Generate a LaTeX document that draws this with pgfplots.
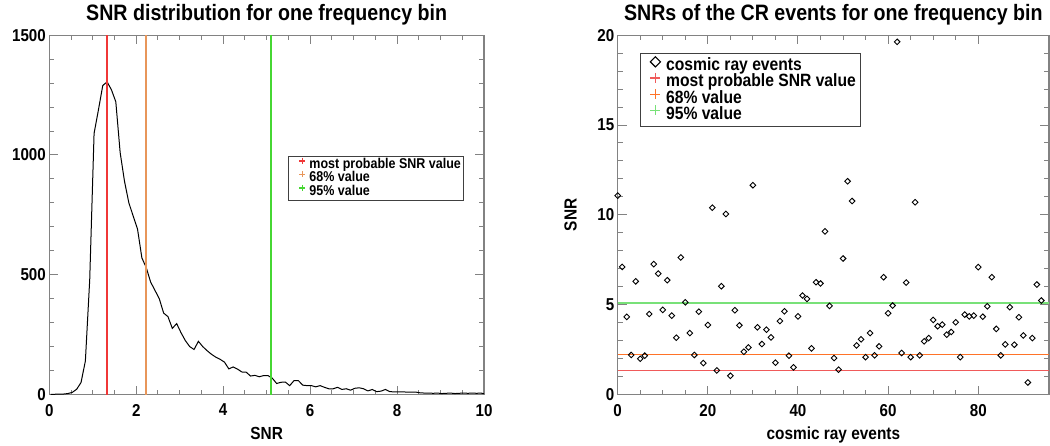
\documentclass[border=0pt]{standalone}
\usepackage{fontspec}
\setmainfont{Liberation Sans}[FakeStretch=0.88]
\usepackage{pgfplots}
\pgfplotsset{compat=1.18}
\definecolor{cRedL}{RGB}{240,55,55}
\definecolor{cOrangeL}{RGB}{232,150,90}
\definecolor{cGreenL}{RGB}{70,215,50}
\definecolor{cRedR}{RGB}{240,90,90}
\definecolor{cOrangeR}{RGB}{255,115,40}
\definecolor{cGreenR}{RGB}{120,225,120}
\definecolor{cAxis}{RGB}{130,130,130}
\pgfplotsset{idl/.style={
  scale only axis,
  axis line style={cAxis, line width=1.2pt},
  every tick/.style={cAxis, line width=1pt},
  major tick length=9pt, minor tick length=5pt,
  tick align=inside,
  /pgf/number format/assume math mode=true,
  /pgf/number format/1000 sep={},
  tick label style={font=\fontsize{17.2}{17.2}\selectfont\bfseries},
  xticklabel style={yshift=-6pt},
  label style={font=\fontsize{17.5}{17.5}\selectfont\bfseries},
  xlabel style={at={(0.5,0)}, anchor=base, yshift=-44.5pt},
  title style={font=\fontsize{22.3}{22.3}\selectfont\bfseries, at={(0.5,1)}, anchor=base, yshift=9pt},
  legend cell align=left,
}}
\begin{document}
\begin{tikzpicture}
\useasboundingbox (0,0) rectangle (1050pt,445pt);
% ---------------- left panel
\begin{axis}[idl,
  at={(49.3pt,50.5pt)}, anchor=south west,
  width=434.7pt, height=359.3pt,
  xmin=0, xmax=10, ymin=0, ymax=1500,
  xtick={0,2,4,6,8,10}, minor x tick num=3,
  ytick={0,500,1000,1500}, minor y tick num=4,
  title={SNR distribution for one frequency bin},
  xlabel={SNR},
  legend style={at={(0.55,0.665)}, anchor=north west, draw=black!75, line width=0.8pt,
    font=\fontsize{14.2}{14.2}\selectfont\bfseries,
    nodes={inner sep=0pt, text height=10pt, text depth=3pt},
    row sep=0pt, inner xsep=3pt, inner ysep=2pt, column sep=1.7pt},
  legend image code/.code={\path[draw=none,fill=none] (0pt,0pt) -- (16pt,0pt); \draw[#1] plot coordinates {(10.4pt,4pt)};},
]
\addplot[black, line width=1pt, forget plot] coordinates {
(0.03,0) (0.13,1) (0.23,2) (0.33,2) (0.43,4) (0.53,9) (0.63,22) (0.73,50) (0.83,140) (0.93,480)
(1.03,1090) (1.13,1188) (1.23,1290) (1.33,1305) (1.43,1272) (1.53,1222) (1.63,1010) (1.73,890)
(1.83,800) (1.93,745) (2.03,690) (2.13,570) (2.23,530) (2.33,470) (2.43,435) (2.53,400)
(2.63,340) (2.73,325) (2.83,276) (2.93,296) (3.03,258) (3.13,225) (3.23,200) (3.33,188)
(3.43,222) (3.53,200) (3.63,183) (3.73,168) (3.83,156) (3.93,147) (4.03,135) (4.13,107)
(4.23,115) (4.33,106) (4.43,94) (4.53,93) (4.63,77) (4.73,80) (4.83,74) (4.93,79) (5.03,79)
(5.13,68) (5.23,46) (5.33,51) (5.43,52) (5.53,37) (5.63,58) (5.73,58) (5.83,39) (5.93,37)
(6.03,37) (6.13,32) (6.23,37) (6.33,30) (6.43,24) (6.53,24) (6.63,30) (6.73,21) (6.83,24)
(6.93,18) (7.03,26) (7.13,28) (7.23,24) (7.33,15) (7.43,21) (7.53,12) (7.63,14) (7.73,21)
(7.83,12) (7.93,11) (8.03,11) (8.13,11) (8.23,10) (8.33,10) (8.43,10) (8.53,7) (8.63,6)
(8.73,6) (8.83,5) (8.93,6) (9.03,4) (9.13,5) (9.23,6) (9.33,4) (9.43,5) (9.53,6) (9.63,5)
(9.73,6) (9.83,5) (9.93,6) (10,3)
};
\addplot[color=cRedL, line width=1.4pt, forget plot] coordinates {(1.33,0) (1.33,1500)};
\addplot[color=cOrangeL, line width=1.6pt, forget plot] coordinates {(2.22,0) (2.22,1500)};
\addplot[color=cGreenL, line width=2pt, forget plot] coordinates {(5.11,0) (5.11,1500)};
\addlegendimage{only marks, mark=+, mark size=3pt, color=cRedL, line width=1.2pt}
\addlegendentry{most probable SNR value}
\addlegendimage{only marks, mark=+, mark size=3pt, color=cOrangeL, line width=1.2pt}
\addlegendentry{68\% value}
\addlegendimage{only marks, mark=+, mark size=3pt, color=cGreenL, line width=1.2pt}
\addlegendentry{95\% value}
\end{axis}
% ---------------- right panel
\begin{axis}[idl,
  at={(617.7pt,50.5pt)}, anchor=south west,
  width=431.3pt, height=359.3pt,
  xmin=0, xmax=95.7, ymin=0, ymax=20,
  xtick={0,20,40,60,80}, minor x tick num=3,
  ytick={0,5,10,15,20}, minor y tick num=4,
  title={SNRs of the CR events for one frequency bin},
  xlabel={cosmic ray events},
  ylabel={SNR},
  ylabel style={at={(axis description cs:-0.109,0.5)}, anchor=center},
  legend style={at={(0.0517,0.9496)}, anchor=north west, draw=black!75, line width=0.8pt,
    font=\fontsize{17.8}{17.8}\selectfont\bfseries,
    nodes={inner sep=0pt, text height=11.5pt, text depth=3.5pt},
    row sep=-1.3pt, inner xsep=5pt, inner ysep=3pt, column sep=2pt},
  legend image code/.code={\path[draw=none,fill=none] (0pt,0pt) -- (18.7pt,0pt); \draw[#1] plot coordinates {(10pt,5pt)};},
]
\addplot[color=cRedR, line width=1.3pt, forget plot] coordinates {(0,1.32) (95.7,1.32)};
\addplot[color=cOrangeR, line width=1.3pt, forget plot] coordinates {(0,2.21) (95.7,2.21)};
\addplot[color=cGreenR, line width=1.6pt, forget plot] coordinates {(0,5.1) (95.7,5.1)};
\addplot[only marks, mark=square, mark size=2pt, mark options={rotate=45, line width=0.9pt}, black, forget plot] coordinates {
(0,11.07) (1,7.10) (2,4.32) (3,2.20) (4,6.30) (5,1.99) (6,2.16) (7,4.48) (8,7.26) (9,6.73)
(10,4.71) (11,6.36) (12,4.39) (13,3.16) (14,7.63) (15,5.13) (16,3.42) (17,2.20) (18,4.61) (19,1.75)
(20,3.87) (21,10.40) (22,1.34) (23,6.03) (24,10.05) (25,1.04) (26,4.69) (27,3.85) (28,2.38) (29,2.62)
(30,11.65) (31,3.74) (32,2.81) (33,3.61) (34,3.18) (35,1.77) (36,4.09) (37,4.63) (38,2.16) (39,1.51)
(40,4.35) (41,5.51) (42,5.32) (43,2.57) (44,6.25) (45,6.18) (46,9.08) (47,4.93) (48,2.03) (49,1.38)
(50,7.57) (51,11.87) (52,10.77) (53,2.73) (54,3.07) (55,2.08) (56,3.42) (57,2.18) (58,2.68) (59,6.53)
(60,4.52) (61,4.95) (62,19.63) (63,2.31) (64,6.23) (65,2.08) (66,10.70) (67,2.18) (68,2.96) (69,3.14)
(70,4.15) (71,3.80) (72,3.89) (73,3.33) (74,3.48) (75,4.02) (76,2.08) (77,4.45) (78,4.35) (79,4.39)
(80,7.09) (81,4.33) (82,4.91) (83,6.53) (84,3.65) (85,2.18) (86,2.79) (87,4.86) (88,2.77) (89,4.30)
(90,3.29) (91,0.67) (92,3.14) (93,6.12) (94,5.23)
};
\addlegendimage{only marks, mark=square, mark size=3.6pt, mark options={rotate=45, line width=1.1pt}, black}
\addlegendentry{cosmic ray events}
\addlegendimage{only marks, mark=+, mark size=5pt, color=cRedR, line width=1.4pt}
\addlegendentry{most probable SNR value}
\addlegendimage{only marks, mark=+, mark size=5pt, color=cOrangeR, line width=1.4pt}
\addlegendentry{68\% value}
\addlegendimage{only marks, mark=+, mark size=5pt, color=cGreenR, line width=1.4pt}
\addlegendentry{95\% value}
\end{axis}
\end{tikzpicture}
\end{document}
